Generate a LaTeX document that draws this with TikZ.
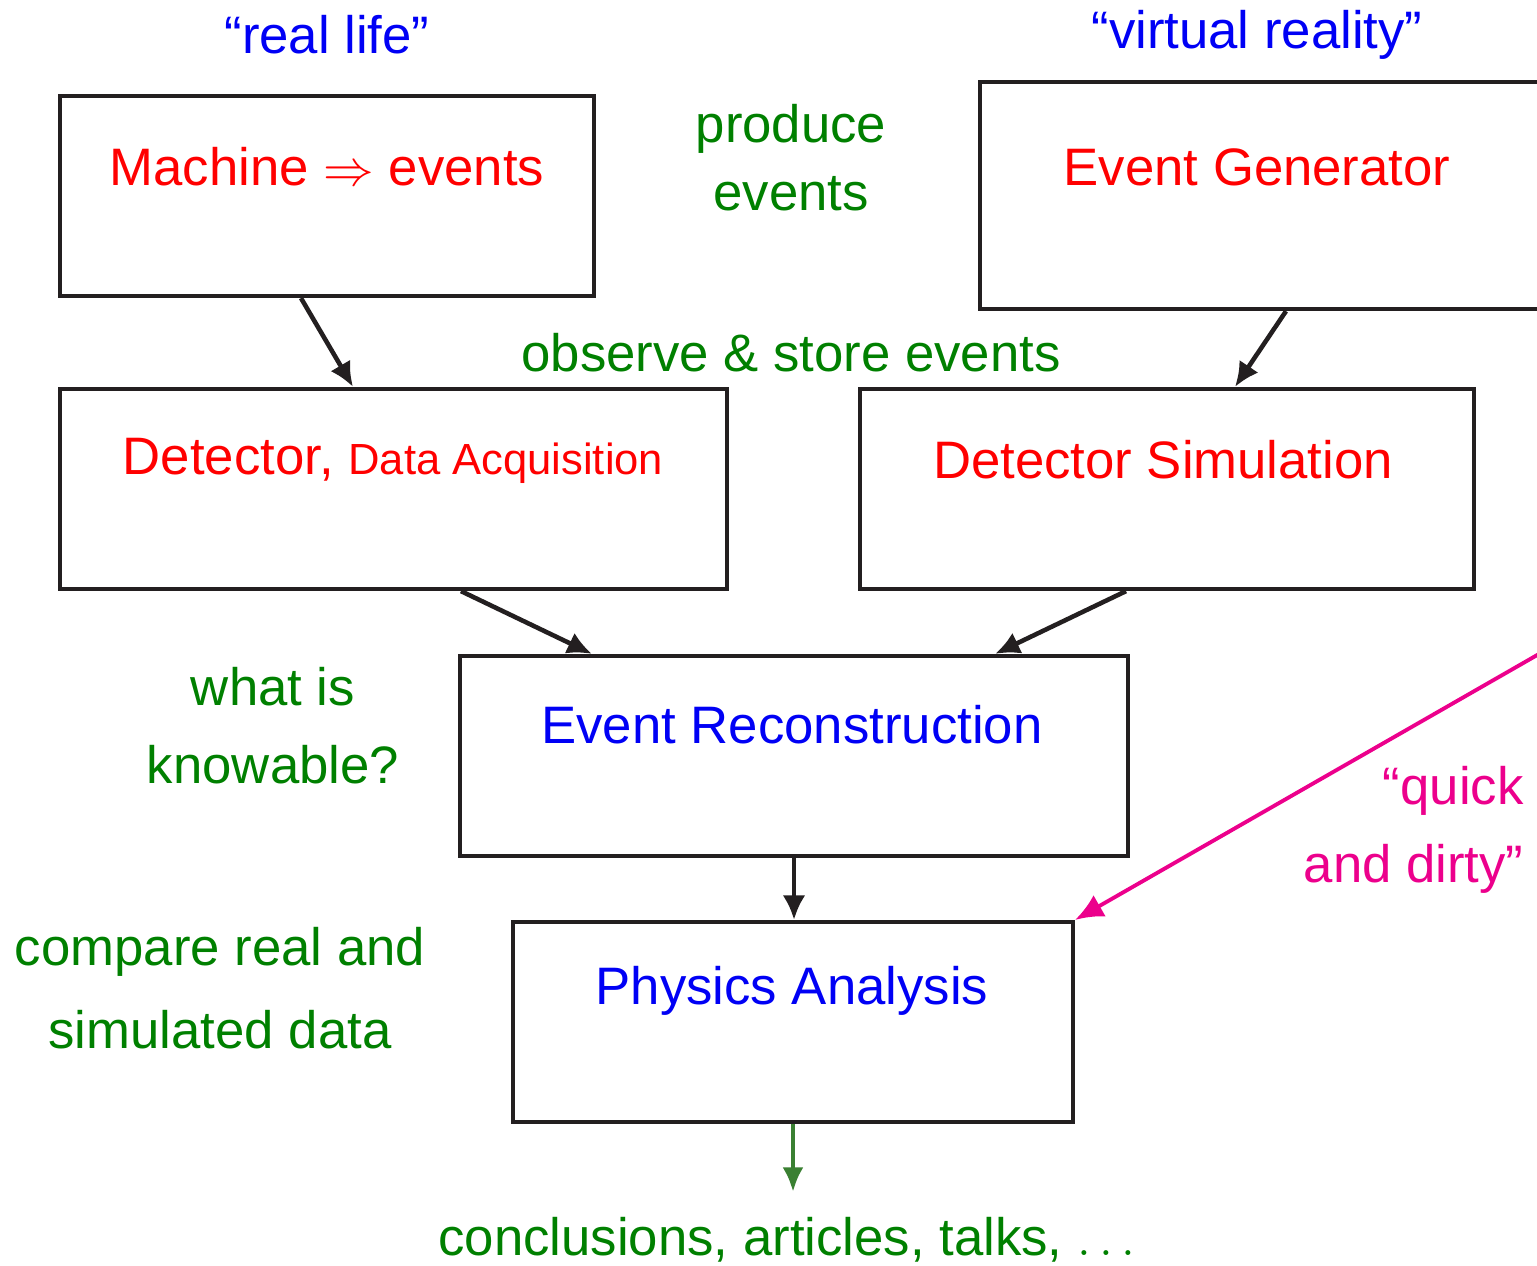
\documentclass[tikz,border=0pt]{standalone}
\usepackage{amsmath,amssymb}
\usepackage{fontspec}
\setmainfont{Liberation Sans}
\usepackage{tikz}
\usetikzlibrary{arrows.meta}

\definecolor{boxline}{RGB}{35,31,32}
\definecolor{txtred}{RGB}{255,0,0}
\definecolor{txtblue}{RGB}{0,0,245}
\definecolor{txtgreen}{RGB}{0,128,0}
\definecolor{qdpink}{RGB}{236,0,140}
\definecolor{arrgreen}{RGB}{58,128,50}

\begin{document}
\begin{tikzpicture}[
    font=\fontsize{15pt}{18pt}\selectfont,
    box/.style={shape=rectangle, draw=boxline, line width=1.2pt, inner sep=0pt},
    flow/.style={draw=boxline, line width=1.3pt, -{Latex[length=7pt,width=6.5pt]}},
    redtxt/.style={text=txtred},
    bluetxt/.style={text=txtblue},
    greentxt/.style={text=txtgreen, align=center}
  ]
    \useasboundingbox (0,0) rectangle (15.37,-12.65);
    \clip (0,0) rectangle (15.37,-12.65);

    % boxes
    \node[box, minimum width=5.34cm, minimum height=2.00cm] (mach) at (3.27, -1.96) {};
    \node[box, minimum width=5.65cm, minimum height=2.27cm] (gen) at (12.625, -1.955) {};
    \node[box, minimum width=6.67cm, minimum height=2.00cm] (det) at (3.935, -4.89) {};
    \node[box, minimum width=6.14cm, minimum height=2.00cm] (sim) at (11.67, -4.89) {};
    \node[box, minimum width=6.68cm, minimum height=2.00cm] (reco) at (7.94, -7.56) {};
    \node[box, minimum width=5.60cm, minimum height=2.00cm] (phys) at (7.93, -10.22) {};

    % box texts
    \node[redtxt] (machtxt) at (3.27, -1.67) {Machine $\Rightarrow$ events};
    \node[redtxt] (gentxt) at (12.57, -1.67) {Event Generator};
    \node[redtxt] (dettxt) at (3.93, -4.61) {Detector, {\fontsize{12.4pt}{15pt}\selectfont Data Acquisition}};
    \node[redtxt] (simtxt) at (11.63, -4.60) {Detector Simulation};
    \node[bluetxt] (recotxt) at (7.92, -7.25) {Event Reconstruction};
    \node[bluetxt] (phystxt) at (7.92, -9.91) {Physics Analysis};

    % headings
    \node[bluetxt] (real) at (3.27, -0.35) {“real life”};
    \node[bluetxt] (virt) at (12.57, -0.35) {“virtual reality”};

    % side remarks
    \node[greentxt] (prod) at (7.91, -1.575) {produce\\[1.3pt]events};
    \node[greentxt] (obs) at (7.91, -3.53) {observe \& store events};
    \node[greentxt] (know) at (2.73, -7.255) {what is\\[4.2pt]knowable?};
    \node[greentxt] (comp) at (2.20, -9.88) {compare real and\\[5.6pt]simulated data};
    \node[text=qdpink, align=right, anchor=east] (quick) at (15.36, -8.30) {“quick\\[4.2pt]and dirty”};
    \node[greentxt] (concl) at (7.87, -12.40) {conclusions, articles, talks, $\ldots$};

    % connectors
    \draw[flow] ([xshift=-0.26cm]mach.south) to ([xshift=-0.405cm]det.north);
    \draw[flow] ([xshift=0.235cm]gen.south) to ([xshift=0.68cm]sim.north);
    \draw[flow] ([xshift=0.675cm]det.south) to ([xshift=-2.02cm]reco.north);
    \draw[flow] ([xshift=-0.41cm]sim.south) to ([xshift=2.01cm]reco.north);
    \draw[flow] (reco.south) to (reco.south |- phys.north);

    \coordinate (qdstart) at (16.00, -6.19);
    \draw[draw=qdpink, line width=1.1pt, -{Latex[length=8pt,width=7pt]}] (qdstart) to (phys.north east);

    \coordinate (out) at (7.93, -11.92);
    \draw[draw=arrgreen, line width=1.4pt, -{Latex[length=7pt,width=6pt]}] (phys.south) to (out);
\end{tikzpicture}
\end{document}
